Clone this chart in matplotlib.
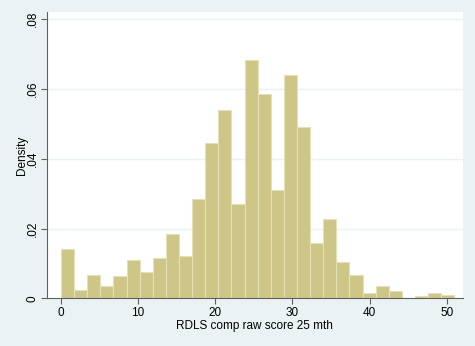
import numpy as np
import matplotlib
matplotlib.use('Agg')
import matplotlib.pyplot as plt

plt.rcParams['font.family'] = ['Liberation Sans', 'DejaVu Sans']

# Histogram: 30 bins of width 1.7 starting at 0
bin_start = 0.0
bin_width = 1.7
density = [0.0142, 0.0025, 0.0068, 0.0036, 0.0063, 0.0110, 0.0074, 0.0116,
           0.0184, 0.0121, 0.0285, 0.0444, 0.0540, 0.0269, 0.0682, 0.0587,
           0.0310, 0.0640, 0.0492, 0.0159, 0.0227, 0.0104, 0.0068, 0.0014,
           0.0036, 0.0021, 0.0, 0.0006, 0.0015, 0.0010]

x_ticks = [0, 10, 20, 30, 40, 50]
y_ticks = [0, 0.02, 0.04, 0.06, 0.08]
y_ticklabels = ['0', '.02', '.04', '.06', '.08']

bg = '#eaf2f3'
bar_col = '#cdc687'

edges = bin_start + bin_width * np.arange(len(density) + 1)

fig = plt.figure(figsize=(4.75, 3.46), dpi=100, facecolor=bg)
ax = fig.add_axes([0.0989, 0.1379, 0.875, 0.8266])
ax.set_facecolor('white')

ax.bar(edges[:-1], density, width=bin_width, align='edge',
       color=bar_col, edgecolor='#e4e0b8', linewidth=0.8, zorder=2)

ax.set_xlim(-1.82, 52.07)
ax.set_ylim(0, 0.082)
ax.set_yticks(y_ticks)
ax.set_yticklabels(y_ticklabels, rotation=90, va='center')
ax.set_xticks(x_ticks)
for y in y_ticks[1:]:
    ax.axhline(y, color=bg, lw=1.0, zorder=1)

for s in ['top', 'right']:
    ax.spines[s].set_visible(False)
for s in ['left', 'bottom']:
    ax.spines[s].set_color('#606060')
    ax.spines[s].set_linewidth(0.8)
ax.tick_params(direction='out', length=4, width=0.8, color='#606060',
               labelsize=8.5, pad=2)

ax.set_xlabel('RDLS comp raw score 25 mth', fontsize=8.5, labelpad=1)
ax.set_ylabel('Density', fontsize=8.5, labelpad=-1)

fig.savefig('out.png', dpi=100, facecolor=bg)
